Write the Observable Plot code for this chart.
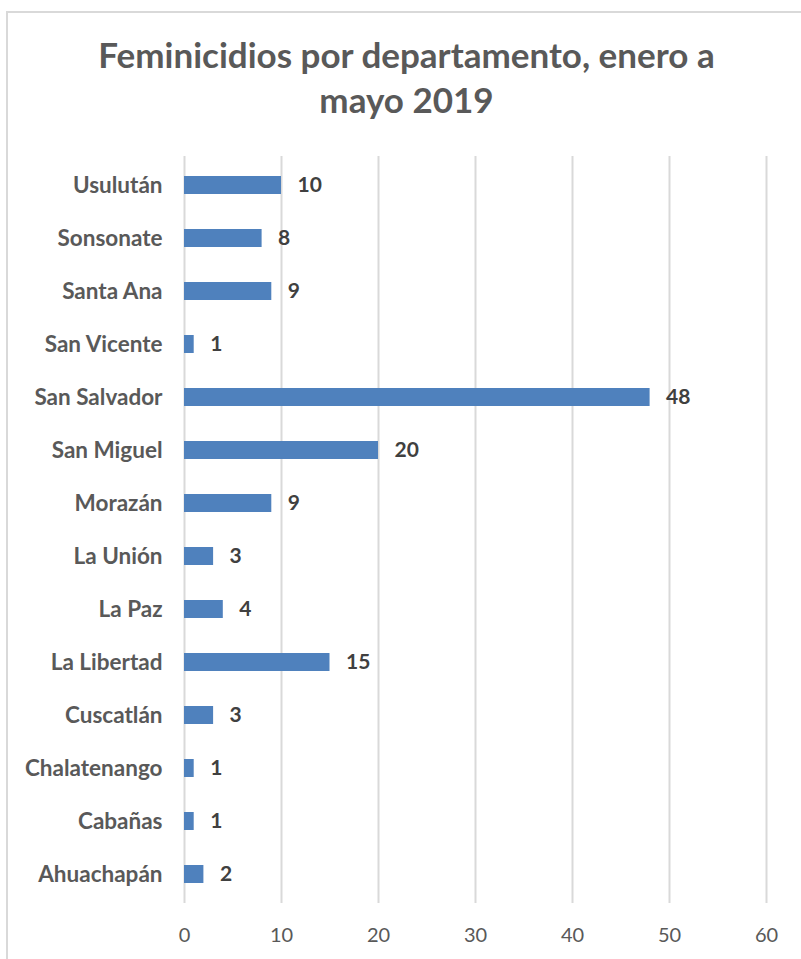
<!DOCTYPE html>
<html>
<head>
<meta charset="utf-8">
<script src="https://cdn.jsdelivr.net/npm/d3@7"></script>
<script src="https://cdn.jsdelivr.net/npm/@observablehq/plot@0.6"></script>
<style>
  html, body { margin: 0; padding: 0; background: #fff; }
  #wrap { position: relative; width: 801px; height: 959px; overflow: hidden; font-family: Lato, "Open Sans", sans-serif; background: #fff; }
  #frame { position: absolute; left: 6px; top: 11px; width: 900px; height: 1000px; border-left: 2px solid #d9d9d9; border-top: 2px solid #d9d9d9; z-index: 2; pointer-events: none; }
  #title { position: absolute; left: 6px; top: 32px; width: 801px; text-align: center; font-weight: bold; font-size: 35px; line-height: 45px; color: #595959; z-index: 1; }
  #chart { position: absolute; left: 0; top: 140px; z-index: 1; }
</style>
</head>
<body>
<div id="wrap">
  <div id="title">Feminicidios por departamento, enero a<br>mayo 2019</div>
  <div id="chart"></div>
  <div id="frame"></div>
</div>
<script>
const departamentos = ["Usulután", "Sonsonate", "Santa Ana", "San Vicente", "San Salvador", "San Miguel", "Morazán", "La Unión", "La Paz", "La Libertad", "Cuscatlán", "Chalatenango", "Cabañas", "Ahuachapán"];
const valores = [10, 8, 9, 1, 48, 20, 9, 3, 4, 15, 3, 1, 1, 2];
const xTicks = [0, 10, 20, 30, 40, 50, 60];

const data = departamentos.map((d, i) => ({departamento: d, valor: valores[i]}));

const chart = Plot.plot({
  width: 801,
  height: 819,
  marginLeft: 184,
  marginRight: 35,
  marginTop: 16,
  marginBottom: 56,
  style: {fontFamily: "Lato, 'Open Sans', sans-serif", background: "transparent"},
  x: {domain: [0, 60], ticks: xTicks},
  y: {domain: departamentos, paddingInner: 0.66, paddingOuter: 0.33},
  marks: [
    Plot.ruleX(xTicks, {stroke: "#d9d9d9", strokeWidth: 2, strokeOpacity: 1}),
    Plot.barX(data, {x: "valor", y: "departamento", fill: "#4f81bd"}),
    Plot.text(data, {x: "valor", y: "departamento", text: d => String(d.valor), dx: 16, textAnchor: "start", fontWeight: "bold", fontSize: 21, fill: "#404040"}),
    Plot.axisY({tickSize: 0, tickPadding: 22, fontSize: 22.5, fontWeight: "bold", color: "#595959", label: null}),
    Plot.axisX({ticks: xTicks, tickSize: 0, tickPadding: 24, fontSize: 20, color: "#595959", label: null})
  ]
});
document.getElementById("chart").appendChild(chart);
</script>
</body>
</html>
